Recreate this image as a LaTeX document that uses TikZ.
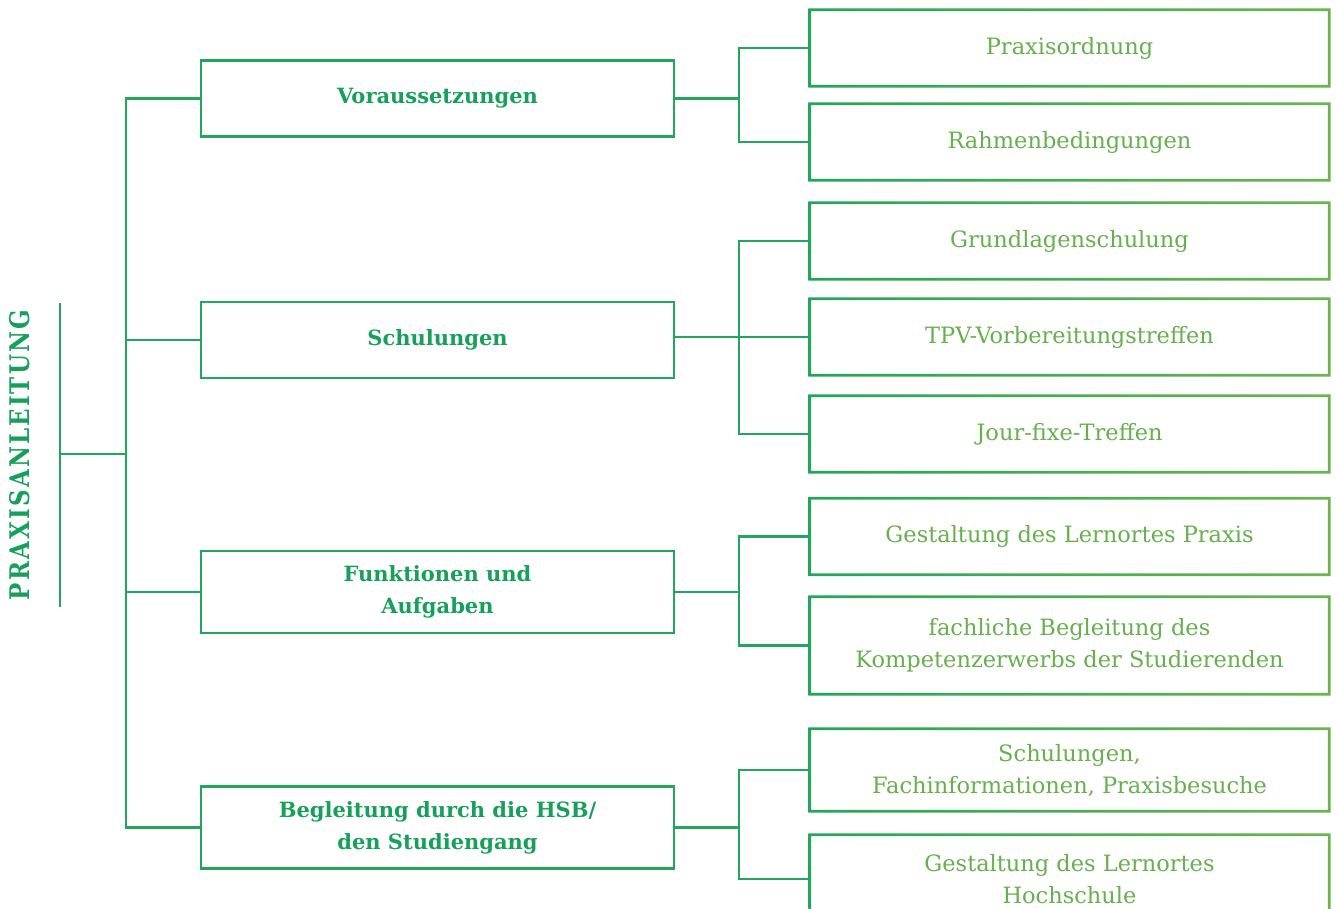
\documentclass[tikz,border=0pt]{standalone}
\usepackage{fontspec}
\setmainfont{DejaVu Serif}
\newfontfamily\titlefont[LetterSpace=8,FakeStretch=0.85]{DejaVu Serif}
\usetikzlibrary{calc}
\definecolor{dgreen}{HTML}{16A05A}
\definecolor{lcol}{HTML}{22A65A}
\definecolor{rcol}{HTML}{6DB44E}
\definecolor{lgreen}{HTML}{66B04E}
\newcommand\gradframe[1]{%
  \shade[left color=lcol,right color=rcol,even odd rule]
    ($(#1.north west)+(-1.4,-1.4)$) rectangle ($(#1.south east)+(1.4,1.4)$)
    ($(#1.north west)+(1.4,1.4)$) rectangle ($(#1.south east)+(-1.4,-1.4)$);}
\begin{document}
\begin{tikzpicture}[x=1pt,y=-1pt,
  mbox/.style={draw=lcol, line width=2.8pt, minimum width=473pt, minimum height=76pt,
    inner sep=0pt, text=dgreen, font=\fontsize{21}{32}\selectfont\bfseries, align=center},
  rbox/.style={minimum width=519pt, minimum height=76pt, inner sep=0pt, text=lgreen,
    font=\fontsize{22.5}{32}\selectfont, align=center},
  conn/.style={draw=lcol, line width=2.8pt}]
\clip (0,0) rectangle (1337,908);
\fill[white] (0,0) rectangle (1337,908);
% title
\node (title) [rotate=90, text=dgreen, font=\fontsize{27}{30}\selectfont\titlefont\bfseries] at (20,455) {PRAXISANLEITUNG};
% middle boxes
\node (v) [mbox] at (437.5,98.5) {Voraussetzungen};
\node (s) [mbox] at (437.5,340) {Schulungen};
\node (f) [mbox, minimum height=82pt] at (437.5,592) {Funktionen und\\Aufgaben};
\node (b) [mbox, minimum height=82pt] at (437.5,827.5) {Begleitung durch die HSB/\\den Studiengang};
% right boxes
\node (r1) [rbox] at (1069.5,48) {Praxisordnung};
\node (r2) [rbox] at (1069.5,142) {Rahmenbedingungen};
\node (r3) [rbox] at (1069.5,241) {Grundlagenschulung};
\node (r4) [rbox] at (1069.5,337) {TPV-Vorbereitungstreffen};
\node (r5) [rbox] at (1069.5,434) {Jour-fixe-Treffen};
\node (r6) [rbox] at (1069.5,536.5) {Gestaltung des Lernortes Praxis};
\node (r7) [rbox, minimum height=97pt] at (1069.5,645.5) {fachliche Begleitung des\\Kompetenzerwerbs der Studierenden};
\node (r8) [rbox, minimum height=82pt] at (1069.5,770) {Schulungen,\\Fachinformationen, Praxisbesuche};
\node (r9) [rbox, minimum height=88pt] at (1069.5,879) {Gestaltung des Lernortes\\Hochschule};
\foreach \n in {r1,r2,r3,r4,r5,r6,r7,r8,r9} {\gradframe{\n}}
% connectors left
\coordinate (bt) at (60,303);
\coordinate (bb) at (60,607);
\coordinate (bm) at (60,454);
\coordinate (tk) at (126,454);
\coordinate (jx) at (739,0);
\draw[conn] (bt) -- (bb);
\draw[conn] (bm) -- (tk);
\draw[conn] (v.west) -- (v.west -| tk) -- (b.west -| tk) -- (b.west);
\draw[conn] (s.west) -- (s.west -| tk);
\draw[conn] (f.west) -- (f.west -| tk);
% connectors right
\draw[conn] (r1.west) -- (r1.west -| jx) -- (r2.west -| jx) -- (r2.west);
\draw[conn] (v.east) -- (v.east -| jx);
\draw[conn] (r3.west) -- (r3.west -| jx) -- (r5.west -| jx) -- (r5.west);
\draw[conn] (s.east |- r4.west) -- (r4.west);
\draw[conn] (r6.west) -- (r6.west -| jx) -- (r7.west -| jx) -- (r7.west);
\draw[conn] (f.east) -- (f.east -| jx);
\draw[conn] (r8.west) -- (r8.west -| jx) -- (r9.west -| jx) -- (r9.west);
\draw[conn] (b.east) -- (b.east -| jx);
\end{tikzpicture}
\end{document}
